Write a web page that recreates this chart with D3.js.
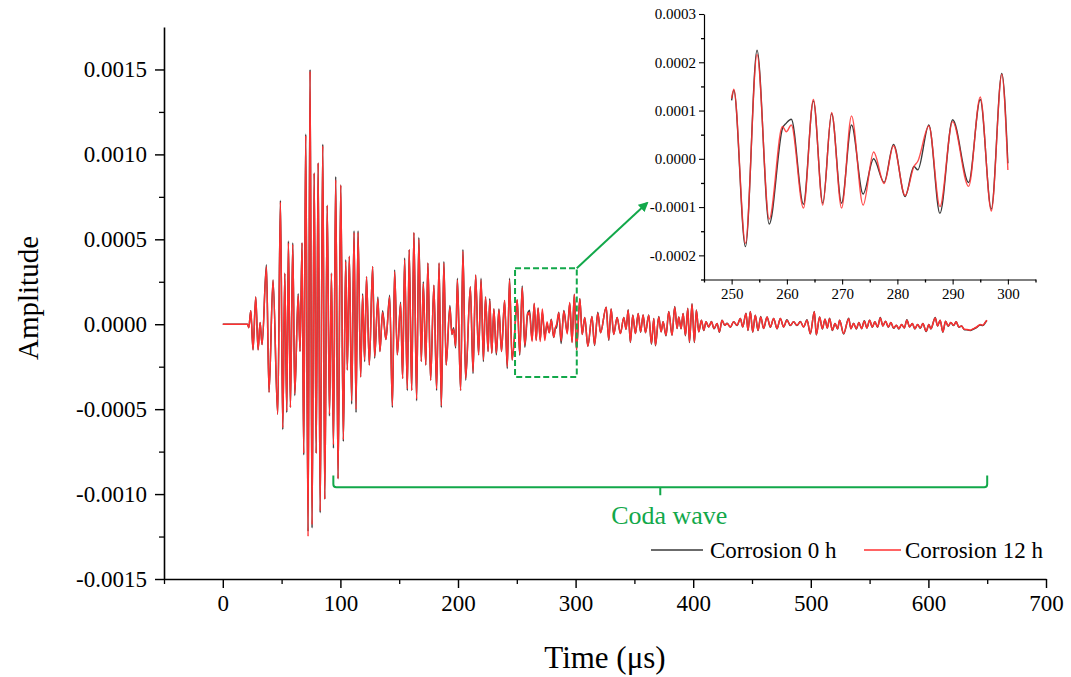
<!DOCTYPE html>
<html>
<head>
<meta charset="utf-8">
<script src="https://cdn.jsdelivr.net/npm/d3@7/dist/d3.min.js"></script>
<style>
  body { margin: 0; background: #fff; }
  svg { font-family: "Liberation Serif", "Times New Roman", serif; }
  .axis path, .axis line { stroke: #000; }
  .axis text { fill: #000; }
</style>
</head>
<body>
<svg id="chart" width="1071" height="677"></svg>
<script>
"use strict"

// Waveform extrema (time in µs, amplitude in units of 1e-4)
var timeUs = [
    0, 21, 22.1, 23.8, 25.7, 28.0, 30.0, 31.7, 33.4, 37.1, 39.3, 42.7, 46.7, 49.0, 51.0, 52.7,
    54.4, 55.8, 57.5, 59.5, 61.2, 64.1, 65.7, 67.4, 68.8,
    70.5, 72.5, 74.2, 75.9, 77.7, 79.4, 81.1, 82.8, 85.0, 86.7, 88.8, 90.7, 92.4, 94.1, 96.0, 98.0,
    100.3, 102.5, 104.5, 105.9, 107.6, 109.6, 111.6, 113.3, 115.0, 117.2, 118.9, 120.6, 122.2, 124.6, 127.4, 129.1,
    131.9, 133.6, 135.9, 138.7, 141.9, 144.2, 146.1, 148.4,
    151.2, 152.9, 154.6, 156.9, 158.5, 160.6, 162.5, 164.8, 166.7, 168.8, 170.5, 172.6, 174.4, 176.7, 179.5, 181.8,
    183.9, 185.8, 188.0, 189.9, 193.1, 194.8, 196.3, 198.0, 199.5, 202.2, 204.2, 206.5, 210.5, 212.8, 215.0, 217.5,
    219.6, 221.6, 223.4, 225.6, 227.0, 228.7, 230.5, 232.6, 234.8, 237.0, 239.6, 241.9, 243.8, 246.0,
    250.0, 250.4, 252.5, 254.6, 256.8, 259.2, 259.9, 260.8, 263.0, 264.8, 266.5, 268.1, 269.9, 271.7, 273.8, 275.7,
    277.6, 279.3, 281.4, 283.0, 283.7, 285.7, 287.7, 290.0, 292.9, 295.0, 297.0, 298.9, 300.0,
    300.8, 303.6, 305.6, 307.8, 310.4, 313.9, 316.1, 318.9, 321.2, 326.0, 328.2, 330.2, 332.4, 335.3, 338.1, 341.0,
    342.9, 344.7, 346.6,
    348.6, 350.9, 353.2, 355.3, 357.4, 359.4, 362.2, 364.5, 366.5, 367.9, 370.7, 372.7, 374.4, 376.9, 379.2, 382.0,
    384.3, 386.3, 387.7, 389.7, 391.4, 393.4, 395.4, 396.8, 399.0, 401.0, 402.7, 404.7, 407.0, 409.0, 410.9, 413.2,
    415.5, 417.7, 420.3, 422.3, 424.5, 426.8, 428.8, 431.6, 434.4, 437.3, 440.1, 442.1, 444.9, 446.6, 448.6, 450.6,
    452.8, 455.1, 457.4, 459.9, 462.8, 465.6, 468.4, 471.3, 474.1, 476.9, 479.7, 482.6, 485.4, 488.2, 491.1, 493.9,
    496.8, 499.6, 503.0, 504.7, 507.5, 509.8, 512.1, 514.0, 516.0, 518.3, 520.6, 522.8, 524.5, 527.9, 532.2, 534.1,
    536.4, 538.7, 540.9, 543.2, 545.5, 547.7, 550.0, 552.3, 554.5, 556.8, 559.1, 561.3, 563.6, 565.9, 568.1, 570.4,
    572.7, 574.9, 577.2, 579.5, 581.7, 584.0, 586.3, 588.5, 590.8, 593.1, 595.3, 598.1, 600.4, 602.1, 605.8, 607.8,
    610.0, 612.3, 614.6, 616.8, 619.1, 621.4, 623.6, 625.9, 628.2, 630.4, 632.7, 635.5, 638.4, 641.2, 644.0, 646.3,
    648.6, 649.7
];

var amp0h = [ // Corrosion 0 h
    0, 0, -0.2, 0.8, -1.5, 1.6, -1.5, 0.1, -1.2, 3.5, -4.0, 2.6, -5.3, 7.3, -6.2, 3.0,
    -5.2, 4.9, -4.9, 4.8, -4.2, 1.8, -1.6, 4.8, -7.7,
    11.2, -12.2, 15.0, -12.0, 8.9, -7.6, 9.5, -11.1, 10.6, -10.3, 7.0, -5.4, 3.0, -7.3, 8.7, -9.1,
    8.2, -6.9, 3.8, -2.7, 4.0, -4.7, 5.5, -5.2, 5.5, -3.1, 1.8, -2.2, 2.8, -2.4, 3.4, -2.0,
    1.6, -1.6, 0.8, -0.9, 1.7, -4.9, 3.2, -1.8,
    1.3, -3.2, 3.9, -3.9, 4.4, -3.9, 5.4, -4.5, 5.1, -2.2, 2.5, -2.4, 3.6, -3.3, 2.3, -3.9,
    3.6, -4.9, 3.7, -2.4, 1.1, -0.6, -0.2, -1.4, 2.7, -3.9, 4.4, -3.3, 2.2, -2.9, 2.9, -1.8,
    2.7, -2.2, 1.6, -1.6, 1.5, -1.7, 0.9, -1.8, 0.9, -1.6, 1.4, -2.6, 2.7, -2.1,
    1.21, 1.42, -1.82, 2.25, -1.35, 0.63, 0.74, 0.82, -0.94, 1.20, -0.92, 0.94, -0.92, 0.70, -0.73, 0.00,
    -0.49, 0.30, -0.78, -0.16, -0.23, 0.70, -1.13, 0.81, -0.49, 1.23, -1.04, 1.77, -0.09,
    -1.5, 1.5, -0.6, 0.4, -1.3, 0.45, -1.25, 0.7, -0.5, 1.0, -0.95, 0.9, -0.6, 0.4, -0.55, 0.4,
    -0.3, 0.85, -1.08,
    0.55, -0.55, 0.63, -0.47, 0.55, -0.5, 0.55, -1.18, 0.34, -1.27, 0.45, -0.45, 0.14, -0.68, 0.75, -0.65,
    1.05, -0.25, 0.43, -0.27, 0.63, -0.68, 0.94, -1.08, 1.2, -1.08, 0.84, -0.45, 0.24, -0.37, 0.14, -0.16,
    0.16, -0.27, 0.04, -0.47, 0.24, -0.06, 0.06, -0.18, 0.14, -0.08, 0.34, -0.16, 0.65, -0.37, 0.75, -0.47,
    0.53, -0.37, 0.45, -0.25, 0.43, -0.18, 0.34, -0.27, 0.34, -0.16, 0.26, -0.08, 0.14, -0.08, 0.16, -0.16,
    0.26, -0.57, 0.75, -0.63, 0.43, -0.28, 0.30, -0.22, 0.35, -0.37, 0.04, -0.28, 0.24, -0.57, 0.35, -0.26,
    0.06, -0.28, 0.10, -0.26, 0.20, -0.22, 0.24, -0.18, 0.14, -0.18, 0.39, -0.10, 0.18, -0.18, 0.10, -0.24,
    -0.06, -0.28, -0.02, -0.22, 0.26, -0.16, 0.04, -0.28, -0.02, -0.24, 0.04, -0.43, -0.02, -0.28, 0.39, -0.10,
    0.24, -0.47, 0.18, -0.12, 0.10, -0.08, 0.14, -0.18, -0.10, -0.31, -0.33, -0.37, -0.28, -0.18, -0.04, -0.08,
    0.12, 0.22
];

var amp12h = [ // Corrosion 12 h
    0, 0, -0.2, 0.8, -1.5, 1.6, -1.5, 0.1, -1.2, 3.4, -4.0, 2.6, -5.3, 7.2, -6.1, 3.0,
    -5.1, 4.8, -4.9, 4.7, -4.1, 1.7, -1.6, 4.8, -7.6,
    11.1, -12.5, 14.9, -11.8, 8.9, -7.6, 9.5, -11.0, 10.5, -10.3, 7.0, -5.3, 3.0, -7.1, 8.5, -9.1,
    8.2, -6.8, 3.7, -2.7, 4.0, -4.5, 5.4, -5.0, 5.4, -3.1, 1.7, -2.1, 2.8, -2.4, 3.4, -1.9,
    1.5, -1.6, 0.7, -0.9, 1.6, -4.8, 3.1, -1.8,
    1.2, -3.2, 3.8, -3.8, 4.4, -3.9, 5.4, -4.4, 5.0, -2.2, 2.4, -2.4, 3.6, -3.3, 2.3, -3.8,
    3.6, -4.8, 3.6, -2.4, 1.0, -0.6, -0.3, -1.3, 2.6, -3.9, 4.3, -3.2, 2.2, -2.8, 2.9, -1.8,
    2.6, -2.1, 1.6, -1.6, 1.4, -1.7, 0.9, -1.7, 0.85, -1.6, 1.4, -2.5, 2.6, -2.1,
    1.25, 1.44, -1.75, 2.16, -1.25, 0.67, 0.56, 0.70, -1.02, 1.23, -0.96, 0.96, -1.02, 0.89, -0.96, 0.14,
    -0.51, 0.27, -0.76, -0.16, -0.05, 0.68, -0.99, 0.77, -0.57, 1.28, -1.08, 1.75, -0.23,
    -1.5, 1.5, -0.6, 0.4, -1.3, 0.45, -1.2, 0.65, -0.5, 1.0, -0.9, 0.9, -0.6, 0.4, -0.55, 0.4,
    -0.3, 0.82, -1.04,
    0.53, -0.55, 0.63, -0.45, 0.55, -0.5, 0.53, -1.14, 0.34, -1.24, 0.43, -0.45, 0.14, -0.65, 0.73, -0.65,
    1.02, -0.25, 0.43, -0.25, 0.63, -0.65, 0.92, -1.04, 1.18, -1.04, 0.82, -0.45, 0.24, -0.35, 0.14, -0.16,
    0.14, -0.25, 0.04, -0.45, 0.24, -0.06, 0.04, -0.16, 0.14, -0.06, 0.34, -0.16, 0.63, -0.35, 0.73, -0.45,
    0.53, -0.35, 0.43, -0.25, 0.43, -0.16, 0.34, -0.25, 0.34, -0.16, 0.24, -0.06, 0.14, -0.06, 0.14, -0.16,
    0.24, -0.55, 0.73, -0.61, 0.43, -0.26, 0.30, -0.22, 0.33, -0.35, 0.04, -0.26, 0.24, -0.55, 0.33, -0.26,
    0.04, -0.26, 0.10, -0.26, 0.18, -0.22, 0.24, -0.16, 0.14, -0.16, 0.37, -0.10, 0.18, -0.16, 0.10, -0.22,
    -0.06, -0.26, -0.02, -0.22, 0.24, -0.16, 0.04, -0.26, -0.02, -0.22, 0.04, -0.41, -0.02, -0.26, 0.37, -0.10,
    0.24, -0.45, 0.18, -0.10, 0.10, -0.06, 0.14, -0.16, -0.10, -0.29, -0.31, -0.35, -0.26, -0.16, -0.02, -0.06,
    0.14, 0.24
];

var seriesNames = ["Corrosion 0 h", "Corrosion 12 h"];
var seriesColors = ["#3a3a3a", "#ff3030"];

var xTicks = [0, 100, 200, 300, 400, 500, 600, 700];
var xMinorTicks = [-50, 50, 150, 250, 350, 450, 550, 650];
var yTicks = [-0.0015, -0.001, -0.0005, 0, 0.0005, 0.001, 0.0015];
var yMinorTicks = [-0.00125, -0.00075, -0.00025, 0.00025, 0.00075, 0.00125];

var insetRange = [250, 300];
var insetXTicks = [250, 260, 270, 280, 290, 300];
var insetXMinor = [245, 255, 265, 275, 285, 295, 305];
var insetYTicks = [-0.0002, -0.0001, 0, 0.0001, 0.0002, 0.0003];
var insetYMinor = [-0.00025, -0.00015, -0.00005, 0.00005, 0.00015, 0.00025];

var codaRange = [94, 650];     // µs spanned by the "Coda wave" brace
var zoomBox = { t0: 248.5, t1: 301, a0: -0.00031, a1: 0.00033 };

var green = "#12a84a";

// ---------------------------------------------------------------
var svg = d3.select("#chart");

var series = [amp0h, amp12h].map(function (amps, k) {
    return {
        name: seriesNames[k],
        color: seriesColors[k],
        values: timeUs.map(function (t, i) { return { t: t, a: amps[i] * 1e-4 }; })
    };
});

var fmt = function (d) { return d3.format(".4f")(d).replace("−", "-"); };

// Style helper: serif labels, thicker axis strokes
function styleAxis(size, domainWidth) {
    return function (g) {
        g.attr("font-family", null).attr("font-size", null);
        g.select(".domain").attr("stroke-width", domainWidth);
        g.selectAll(".tick line").attr("stroke-width", domainWidth * 0.9);
        g.selectAll("text").attr("font-size", size);
    };
}
function minorAxis(g) {
    g.select(".domain").remove();
    g.selectAll(".tick line").attr("stroke-width", 1.3);
}

// Main plot
var x = d3.scaleLinear().domain([-50, 700]).range([164, 1046]);
var y = d3.scaleLinear().domain([-0.0015, 0.00175]).range([579, 27]);

svg.append("g").attr("class", "axis")
    .attr("transform", "translate(0,579)")
    .call(d3.axisBottom(x).tickValues(xTicks).tickSize(9).tickSizeOuter(0).tickPadding(7))
    .call(styleAxis(23, 1.6));
svg.append("g").attr("class", "axis")
    .attr("transform", "translate(0,579)")
    .call(d3.axisBottom(x).tickValues(xMinorTicks).tickSize(5).tickSizeOuter(0).tickFormat(""))
    .call(minorAxis);

svg.append("g").attr("class", "axis")
    .attr("transform", "translate(164,0)")
    .call(d3.axisLeft(y).tickValues(yTicks).tickSize(9).tickSizeOuter(0).tickPadding(8).tickFormat(fmt))
    .call(styleAxis(23, 1.6));
svg.append("g").attr("class", "axis")
    .attr("transform", "translate(164,0)")
    .call(d3.axisLeft(y).tickValues(yMinorTicks).tickSize(5).tickSizeOuter(0).tickFormat(""))
    .call(minorAxis);

svg.append("text")
    .attr("transform", "translate(38,298) rotate(-90)")
    .attr("text-anchor", "middle")
    .attr("font-size", 29)
    .text("Amplitude");

svg.append("text")
    .attr("x", 605).attr("y", 668)
    .attr("text-anchor", "middle")
    .attr("font-size", 31)
    .text("Time (μs)");

var line = d3.line()
    .curve(d3.curveMonotoneX)
    .x(function (d) { return x(d.t); })
    .y(function (d) { return y(d.a); });

svg.append("g").selectAll("path")
    .data(series)
    .join("path")
    .attr("d", function (d) { return line(d.values); })
    .attr("fill", "none")
    .attr("stroke", function (d) { return d.color; })
    .attr("stroke-width", 1.5)
    .attr("stroke-linejoin", "round");

// Zoom box and arrow
svg.append("rect")
    .attr("x", x(zoomBox.t0)).attr("y", y(zoomBox.a1))
    .attr("width", x(zoomBox.t1) - x(zoomBox.t0))
    .attr("height", y(zoomBox.a0) - y(zoomBox.a1))
    .attr("fill", "none")
    .attr("stroke", green)
    .attr("stroke-width", 2)
    .attr("stroke-dasharray", "6,3");

svg.append("defs").append("marker")
    .attr("id", "arrow")
    .attr("viewBox", "0 0 10 10")
    .attr("refX", 8).attr("refY", 5)
    .attr("markerWidth", 5).attr("markerHeight", 5)
    .attr("orient", "auto")
    .append("path")
    .attr("d", "M0,0 L10,5 L0,10 z")
    .attr("fill", green);

svg.append("line")
    .attr("x1", x(zoomBox.t1)).attr("y1", y(zoomBox.a1))
    .attr("x2", 647).attr("y2", 203)
    .attr("stroke", green)
    .attr("stroke-width", 2)
    .attr("marker-end", "url(#arrow)");

// Coda wave brace
var bx0 = x(codaRange[0]), bx1 = x(codaRange[1]), bxc = (bx0 + bx1) / 2;
var by = y(-0.00096), byEnd = y(-0.00089);
svg.append("path")
    .attr("d", "M" + bx0 + "," + byEnd + " L" + bx0 + "," + (by - 3) +
        " Q" + bx0 + "," + by + " " + (bx0 + 3) + "," + by +
        " L" + (bx1 - 3) + "," + by +
        " Q" + bx1 + "," + by + " " + bx1 + "," + (by - 3) +
        " L" + bx1 + "," + byEnd +
        " M" + bxc + "," + by + " L" + bxc + "," + (by + 8))
    .attr("fill", "none")
    .attr("stroke", green)
    .attr("stroke-width", 2);

svg.append("text")
    .attr("x", bxc + 9).attr("y", by + 37)
    .attr("text-anchor", "middle")
    .attr("font-size", 26)
    .attr("fill", green)
    .text("Coda wave");

// Legend
var legend = svg.append("g").selectAll("g")
    .data(series)
    .join("g")
    .attr("transform", function (d, i) { return "translate(" + (i ? 864 : 651) + ",550)"; });
legend.append("line")
    .attr("x1", 0).attr("x2", function (d, i) { return i ? 37 : 52; })
    .attr("stroke", function (d) { return d.color; })
    .attr("stroke-width", 1.6);
legend.append("text")
    .attr("x", function (d, i) { return i ? 41 : 59; })
    .attr("y", 8)
    .attr("font-size", 23)
    .text(function (d) { return d.name; });

// Inset
var ix = d3.scaleLinear().domain([245, 305]).range([704, 1035.5]);
var iy = d3.scaleLinear().domain([-0.00025, 0.0003]).range([279.5, 14]);

svg.append("g").attr("class", "axis")
    .attr("transform", "translate(0,279.5)")
    .call(d3.axisBottom(ix).tickValues(insetXTicks).tickSize(5).tickSizeOuter(0).tickPadding(4))
    .call(styleAxis(15, 1.2));
svg.append("g").attr("class", "axis")
    .attr("transform", "translate(0,279.5)")
    .call(d3.axisBottom(ix).tickValues(insetXMinor).tickSize(3).tickSizeOuter(0).tickFormat(""))
    .call(minorAxis);

svg.append("g").attr("class", "axis")
    .attr("transform", "translate(704,0)")
    .call(d3.axisLeft(iy).tickValues(insetYTicks).tickSize(5).tickSizeOuter(0).tickPadding(3).tickFormat(fmt))
    .call(styleAxis(15, 1.2));
svg.append("g").attr("class", "axis")
    .attr("transform", "translate(704,0)")
    .call(d3.axisLeft(iy).tickValues(insetYMinor).tickSize(3).tickSizeOuter(0).tickFormat(""))
    .call(minorAxis);

var insetLine = d3.line()
    .curve(d3.curveMonotoneX)
    .x(function (d) { return ix(d.t); })
    .y(function (d) { return iy(d.a); });

svg.append("g").selectAll("path")
    .data(series)
    .join("path")
    .attr("d", function (d) {
        return insetLine(d.values.filter(function (v) { return v.t >= insetRange[0] && v.t <= insetRange[1]; }));
    })
    .attr("fill", "none")
    .attr("stroke", function (d) { return d.color; })
    .attr("stroke-width", 1.4)
    .attr("stroke-opacity", function (d, i) { return i ? 0.85 : 1; });
</script>
</body>
</html>
